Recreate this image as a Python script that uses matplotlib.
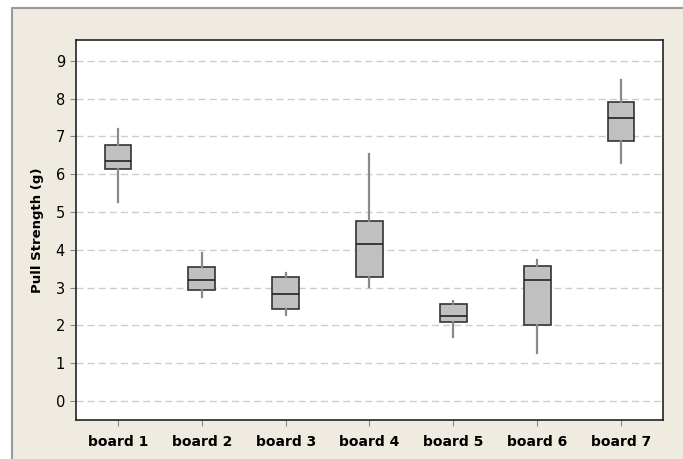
import matplotlib.pyplot as plt
from matplotlib.patches import Rectangle
from matplotlib.lines import Line2D

boards = ["board 1", "board 2", "board 3", "board 4", "board 5", "board 6", "board 7"]
whisker_low = [5.26, 2.75, 2.27, 3.03, 1.69, 1.28, 6.31]
q1 = [6.13, 2.95, 2.43, 3.27, 2.09, 2.02, 6.87]
median = [6.34, 3.21, 2.84, 4.15, 2.24, 3.20, 7.50]
q3 = [6.77, 3.54, 3.28, 4.76, 2.58, 3.58, 7.90]
whisker_high = [7.20, 3.92, 3.38, 6.54, 2.64, 3.74, 8.49]

W, H = 683, 459
fig = plt.figure(figsize=(W / 100, H / 100), dpi=100, facecolor="white")

# beige panel, grey border on left and top only
x0, y0 = 12 / W, 1 - 8 / H
fig.patches.append(Rectangle((x0, 0), 1 - x0, y0, transform=fig.transFigure,
                             facecolor="#efebe0", edgecolor="none", zorder=-2))
fig.lines.append(Line2D([x0, x0, 1], [0, y0, y0], transform=fig.transFigure,
                        color="#9a9a9a", linewidth=1.5, zorder=-1))

ax = fig.add_axes([76 / W, 1 - 420 / H, (663 - 76) / W, (420 - 40) / H])
ax.set_facecolor("white")

stats = []
for i in range(len(boards)):
    stats.append({"whislo": whisker_low[i], "q1": q1[i], "med": median[i],
                  "q3": q3[i], "whishi": whisker_high[i], "fliers": []})

positions = list(range(1, len(boards) + 1))
ax.bxp(stats, positions=positions, widths=0.32, showcaps=False, showfliers=False,
       patch_artist=True,
       boxprops=dict(facecolor="#c0c0c0", edgecolor="#333333", linewidth=1.2),
       medianprops=dict(color="#222222", linewidth=1.2),
       whiskerprops=dict(color="#8a8a8a", linewidth=1.6),
       zorder=3)

ax.set_xlim(0.5, 7.5)
ax.set_ylim(-0.5, 9.55)
ax.set_yticks(range(0, 10))
ax.set_xticks(positions)
ax.set_xticklabels(boards, fontsize=10, fontweight="bold")
ax.tick_params(axis="y", labelsize=10.5, length=4, color="#888888", pad=4)
ax.tick_params(axis="x", length=4, color="#888888", pad=7)

ax.yaxis.grid(True, linestyle=(0, (5, 3)), color="#cccccc", linewidth=1.0, zorder=1)
ax.set_axisbelow(True)

for s in ax.spines.values():
    s.set_color("#222222")
    s.set_linewidth(1.2)

ax.set_ylabel("Pull Strength (g)", fontsize=9.5, fontweight="bold", labelpad=8)

plt.savefig("out.png", dpi=100, facecolor=fig.get_facecolor())
